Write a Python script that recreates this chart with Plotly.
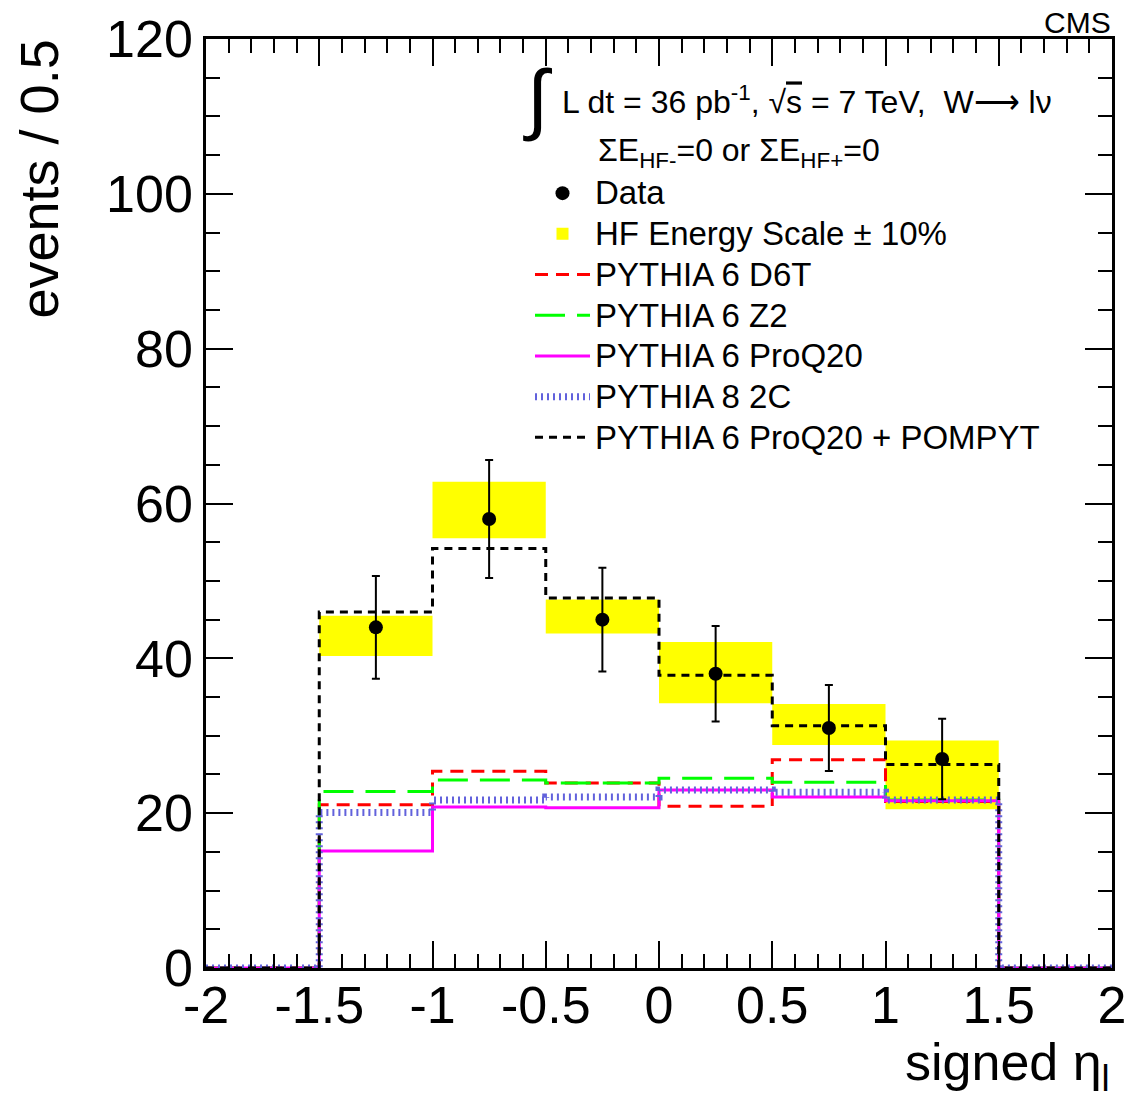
import numpy as np
import plotly.graph_objects as go

# bin edges of signed eta_l, only the six central bins are filled
edges = [-2.0, -1.5, -1.0, -0.5, 0.0, 0.5, 1.0, 1.5, 2.0]
centers = [-1.25, -0.75, -0.25, 0.25, 0.75, 1.25]

data_counts = [44, 58, 45, 38, 31, 27]
band_lo = [40.3, 55.5, 43.2, 34.2, 28.8, 20.5]
band_hi = [45.5, 62.8, 47.6, 42.1, 34.1, 29.4]

d6t = [21.1, 25.4, 23.9, 20.9, 26.9, 21.5]
z2 = [22.8, 24.3, 23.9, 24.5, 24.0, 21.7]
proq20 = [15.1, 20.8, 20.7, 23.0, 22.1, 21.6]
p8_2c = [20.1, 21.7, 22.1, 23.0, 22.7, 21.7]
pompyt = [46.0, 54.2, 47.8, 37.8, 31.3, 26.3]

x_tickvals = [-2, -1.5, -1, -0.5, 0, 0.5, 1, 1.5, 2]
x_ticktext = ["-2", "-1.5", "-1", "-0.5", "0", "0.5", "1", "1.5", "2"]

FONT = "Liberation Sans"


def step_y(vals):
    # empty outer bins, last value repeated so the "hv" step closes at x=2
    return [0] + list(vals) + [0, 0]


def px_x(px):
    return (px - 206) / 906


def px_y(py):
    return 1 - (py - 39.3) / 928.4


def big(text):
    # legend row height follows legend.font.size, the text itself is drawn a bit larger
    return f"<span style='font-size:33px'>{text}</span>"


fig = go.Figure()

fig.add_trace(go.Bar(
    x=centers, y=[h - l for h, l in zip(band_hi, band_lo)], base=band_lo, width=0.5,
    marker=dict(color="#ffff00", line=dict(width=0)),
    name=big("HF Energy Scale ± 10%"), legendrank=2, hoverinfo="skip",
))

hist_styles = [
    ("PYTHIA 6 D6T", d6t, dict(color="#ff0000", width=3, dash="13px,8px"), 3),
    ("PYTHIA 6 Z2", z2, dict(color="#00ff00", width=3, dash="30px,12px"), 4),
    ("PYTHIA 6 ProQ20", proq20, dict(color="#ff00ff", width=3), 5),
    ("PYTHIA 8 2C", p8_2c, dict(color="#6262dc", width=7, dash="2px,4px"), 6),
    ("PYTHIA 6 ProQ20 + POMPYT", pompyt, dict(color="#000000", width=3, dash="8px,6px"), 7),
]
for name, vals, line, rank in hist_styles:
    fig.add_trace(go.Scatter(
        x=edges, y=step_y(vals), mode="lines", line=dict(shape="hv", **line),
        name=big(name), legendrank=rank,
    ))

fig.add_trace(go.Scatter(
    x=centers, y=data_counts, mode="markers", name=big("Data"), legendrank=1,
    marker=dict(color="black", size=14),
    error_y=dict(type="data", array=np.sqrt(data_counts), color="black", thickness=2, width=4),
))

axis_common = dict(
    showline=True, linecolor="black", linewidth=2.5, mirror="ticks",
    ticks="inside", ticklen=27, tickwidth=2, tickcolor="black",
    showgrid=False, zeroline=False, automargin=False,
    tickfont=dict(family=FONT, size=52, color="black"),
)
fig.update_xaxes(range=[-2, 2], tickvals=x_tickvals, ticktext=x_ticktext, ticklabelstandoff=-10,
                 minor=dict(dtick=0.1, ticks="inside", ticklen=14, tickwidth=2, tickcolor="black"),
                 **axis_common)
fig.update_yaxes(range=[0, 120], dtick=20, tick0=0,
                 minor=dict(dtick=5, ticks="inside", ticklen=14, tickwidth=2, tickcolor="black"),
                 **axis_common)

annotations = [
    dict(text="∫", x=px_x(538), y=px_y(98), font=dict(size=78), xanchor="center", yanchor="middle"),
    dict(text="L dt = 36 pb<sup>-1</sup>, √<span style='text-decoration:overline'>s</span> = 7 TeV,  W⟶ lν",
         x=px_x(560), y=px_y(100), xanchor="left", yanchor="middle"),
    dict(text="ΣE<sub>HF-</sub>=0 or ΣE<sub>HF+</sub>=0",
         x=px_x(596), y=px_y(153), xanchor="left", yanchor="middle"),
    dict(text="CMS", x=1, y=px_y(23), font=dict(size=30), xanchor="right", yanchor="middle",
         borderpad=0),
    dict(text="events / 0.5", x=px_x(38), y=1, textangle=-90, font=dict(size=54),
         xanchor="center", yanchor="top", borderpad=0),
    dict(text="signed η<sub>l</sub>", x=1, y=px_y(1066), font=dict(size=52),
         xanchor="right", yanchor="middle"),
]
for a in annotations:
    a.setdefault("font", dict(size=32))
    a["font"].update(family=FONT, color="black")
    fig.add_annotation(xref="paper", yref="paper", showarrow=False, **a)

# the page body adds 8px around the figure, margins are set so the frame sits where it should
fig.update_layout(
    width=1137, height=1111,
    margin=dict(l=198, r=33, t=31, b=151),
    paper_bgcolor="white", plot_bgcolor="white",
    barmode="overlay",
    showlegend=True,
    legend=dict(
        x=px_x(530), y=px_y(168), xanchor="left", yanchor="top",
        bgcolor="rgba(0,0,0,0)", borderwidth=0, itemwidth=55,
        font=dict(family=FONT, size=29, color="black"),
    ),
)

fig.write_html("out.html")
